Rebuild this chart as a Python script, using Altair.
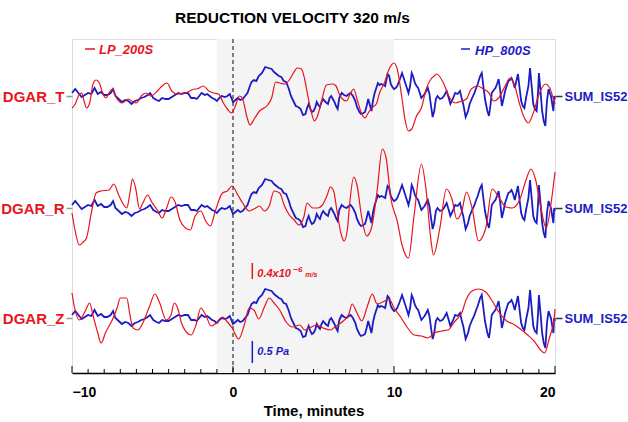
import altair as alt
import pandas as pd

RED = "#e8141e"
BLUE = "#1c1cc4"

# Row labels and their baselines (plot units, 0 = bottom of frame)
row_names = ["DGAR_T", "DGAR_R", "DGAR_Z"]
row_base = [277, 165, 55]

# HP_800S infrasound trace (same in all three rows)
blue_t = [-10.0, -9.8, -9.6, -9.4, -9.2, -9.0, -8.8, -8.6, -8.4, -8.2, -8.0, -7.8, -7.6, -7.45, -7.3,
          -7.1, -6.9, -6.7, -6.5, -6.3, -6.1, -5.9, -5.7, -5.5, -5.3, -5.15, -4.95, -4.75, -4.6, -4.4,
          -4.2, -4.0, -3.8, -3.6, -3.4, -3.2, -3.0, -2.8, -2.6, -2.4, -2.25, -2.1, -1.95, -1.75, -1.6,
          -1.45, -1.3, -1.15, -1.0, -0.85, -0.7, -0.5, -0.35, -0.2, -0.1, 0.0, 0.15, 0.3, 0.45, 0.6,
          0.75, 0.9, 1.05, 1.15, 1.3, 1.45, 1.6, 1.8, 2.0, 2.2, 2.4, 2.55, 2.7, 2.85, 3.0,
          3.15, 3.3, 3.45, 3.6, 3.75, 3.9, 4.05, 4.2, 4.35, 4.5, 4.6, 4.7, 4.8, 4.9, 5.0,
          5.1, 5.2, 5.3, 5.4, 5.5, 5.6, 5.75, 5.9, 6.0, 6.1, 6.2, 6.3, 6.4, 6.5, 6.6,
          6.75, 6.9, 7.05, 7.2, 7.3, 7.45, 7.6, 7.7, 7.85, 7.95, 8.1, 8.2, 8.3, 8.4, 8.5,
          8.6, 8.7, 8.8, 9.0, 9.1, 9.2, 9.35, 9.45, 9.6, 9.7, 9.8, 9.9, 10.0, 10.1, 10.2,
          10.35, 10.5, 10.6, 10.7, 10.8, 10.9, 11.0, 11.1, 11.2, 11.3, 11.4, 11.5, 11.6, 11.7, 11.8,
          11.9, 12.0, 12.1, 12.2, 12.3, 12.4, 12.5, 12.6, 12.7, 12.86, 13.0, 13.1, 13.27, 13.4, 13.5,
          13.65, 13.8, 13.95, 14.1, 14.2, 14.3, 14.45, 14.6, 14.7, 14.85, 15.0, 15.1, 15.2, 15.35, 15.45,
          15.55, 15.65, 15.8, 15.9, 16.0, 16.07, 16.2, 16.3, 16.4, 16.5, 16.6, 16.7, 16.8, 16.9, 17.0,
          17.1, 17.2, 17.3, 17.4, 17.5, 17.6, 17.7, 17.8, 17.9, 18.0, 18.1, 18.2, 18.35, 18.45, 18.55,
          18.65, 18.75, 18.86, 18.95, 19.0, 19.1, 19.2, 19.3, 19.4, 19.5, 19.6, 19.7, 19.75, 19.85, 19.9,
          19.95, 20.0]
blue_v = [3, 7, 3, -1, 1, 3, 2, 8, 2, 4, 1, 1, 3, 7, 0,
          -3, -6, -4, -5, -8, -5, -4, -2, -1, 1, 3, -2, -4, -5, -2,
          -3, -3, -1, 1, 3, 2, 3, 3, -2, -2, -3, 0, 3, 1, 2,
          0, -2, -3, -5, -2, 0, -1, 0, 2, -2, -6, -4, -2, -4, -3,
          0, 3, 10, 14, 16, 15, 20, 23, 29, 28, 27, 24, 22, 20, 19,
          15, 14, 8, 0, -5, -10, -11, -13, -19, -18, -12, -8, -13, -16, -15,
          -12, -6, -9, -11, -6, -3, -6, -8, -2, 0, -3, -6, -10, -13, -2,
          3, 1, 0, 2, 3, 0, -5, -11, -16, -18, -17, -16, -10, -3, -9,
          -15, -4, 3, 13, 11, 12, 11, 10, 22, 20, 12, 9, 7, 8, 10,
          16, 23, 18, 13, 8, 3, 10, 23, 19, 13, 10, 8, 3, -2, 0,
          2, 5, 8, 2, -10, -21, -15, -3, 0, -3, -2, 0, 5, -2, -8,
          -3, 3, 2, 5, -2, -8, -21, -15, -8, -2, 3, 8, 12, 20, 23,
          10, -3, -15, -20, -8, 3, 6, 8, 12, 17, 5, -10, -3, 5, 10,
          15, 16, 18, 14, 8, 15, 22, 8, -5, -10, -12, -2, 10, 28, 10,
          -8, -13, -15, 5, 23, 5, -15, -25, -30, -5, 7, 2, 0, -10, -15,
          0, -3]

# LP_200S seismic traces
redT_t = [-10.0, -9.8, -9.6, -9.4, -9.25, -9.1, -8.9, -8.7, -8.5, -8.3, -8.1, -7.9, -7.7, -7.5, -7.2,
          -6.9, -6.5, -6.3, -6.0, -5.7, -5.4, -5.1, -4.7, -4.4, -4.1, -3.8, -3.5, -3.1, -2.8, -2.4,
          -2.25, -1.85, -1.5, -1.2, -0.9, -0.6, -0.35, -0.1, 0.1, 0.4, 0.6, 0.85, 1.05, 1.35, 1.65,
          2.1, 2.4, 2.65, 2.9, 3.2, 3.5, 3.75, 4.0, 4.25, 4.45, 4.65, 4.85, 5.05, 5.25, 5.5,
          5.8, 6.2, 6.4, 6.6, 6.8, 7.05, 7.3, 7.5, 7.7, 8.0, 8.2, 8.4, 8.6, 8.9, 9.1,
          9.4, 9.7, 10.0, 10.2, 10.5, 10.7, 10.9, 11.1, 11.4, 11.7, 12.0, 12.3, 12.5, 12.65, 13.07,
          13.4, 13.8, 14.2, 14.5, 14.8, 15.2, 15.55, 15.9, 16.2, 16.5, 16.9, 17.2, 17.5, 17.8, 18.1,
          18.35, 18.65, 18.97, 19.4, 19.7, 19.9, 20.0]
redT_v = [-12, -8, 0, 3, -5, -12, -7, 12, 16, 13, 3, -2, 3, 7, -3,
          -7, -3, -5, -7, 0, 3, 0, 5, 10, 13, 5, 2, 3, 4, 7,
          7, 10, 5, 3, 2, -7, -13, -17, -12, 0, -3, -20, -29, -22, -15,
          -10, -2, 14, 13, 12, 16, 23, 28, 27, 17, 0, -15, -25, -20, -5,
          11, 12, 10, 2, -3, -5, 3, 7, -3, -18, -22, -17, -12, -8, 3,
          13, 27, 33, 27, -3, -25, -35, -33, -20, -12, 7, 17, 20, 22, 13,
          0, -7, -5, -3, 7, 10, 7, 3, -5, -2, 10, 18, 10, -8, -22,
          -27, -17, 0, 12, 7, -3, -8]

redR_t = [-10.0, -9.85, -9.55, -9.3, -9.1, -8.8, -8.5, -8.2, -7.7, -7.4, -7.1, -6.6, -6.4, -6.25, -6.05,
          -5.8, -5.6, -5.3, -5.05, -4.7, -4.4, -4.1, -3.85, -3.6, -3.3, -2.95, -2.65, -2.35, -2.0, -1.7,
          -1.4, -1.1, -0.65, -0.35, -0.05, 0.3, 0.6, 1.0, 1.3, 1.65, 1.95, 2.25, 2.55, 2.9, 3.2,
          3.5, 3.8, 4.1, 4.4, 4.6, 4.95, 5.25, 5.55, 5.85, 6.05, 6.25, 6.45, 6.7, 6.9, 7.1,
          7.25, 7.5, 7.7, 8.0, 8.3, 8.6, 8.95, 9.27, 9.5, 9.8, 10.2, 10.5, 10.9, 11.25, 11.7,
          12.0, 12.3, 12.45, 12.85, 13.25, 13.6, 13.9, 14.2, 14.5, 14.85, 15.25, 15.7, 16.1, 16.5, 16.95,
          17.35, 17.8, 18.2, 18.5, 18.8, 19.15, 19.45, 19.8, 20.0]
redR_v = [-5, -19, -37, -34, -30, -5, 15, 17, 18, 24, 13, 0, 15, 29, 20,
          -1, 5, 13, 6, -2, -10, 1, 11, 6, -12, -20, -22, -8, -3, -13,
          -18, -3, 15, 17, 22, 13, 5, -3, -1, 2, -3, 2, 17, 15, 2,
          -7, -12, -17, -9, 5, 0, 0, 3, 13, 21, 17, -2, -25, -33, -22,
          5, 31, 23, -10, -28, -20, 17, 59, 51, 10, -13, -37, -50, -7, 44,
          17, -33, -47, -20, 19, 9, -11, -4, 16, 0, -33, -20, 19, 11, 1,
          0, 8, 28, 39, 28, -2, -20, 10, 36]

redZ_t = [-10.0, -9.85, -9.55, -9.2, -8.9, -8.7, -8.4, -8.2, -7.9, -7.5, -7.2, -7.0, -6.6, -6.4, -6.2,
          -5.9, -5.6, -5.2, -4.85, -4.55, -4.15, -3.85, -3.65, -3.4, -3.2, -2.9, -2.6, -2.3, -2.0, -1.7,
          -1.35, -1.05, -0.65, -0.35, -0.05, 0.35, 0.7, 1.0, 1.3, 1.6, 1.95, 2.25, 2.55, 2.9, 3.3,
          3.7, 4.15, 4.45, 4.75, 5.2, 5.6, 6.05, 6.4, 6.85, 7.2, 7.4, 7.7, 8.0, 8.35, 8.65,
          8.95, 9.3, 9.7, 10.0, 10.45, 10.85, 11.25, 11.7, 12.1, 12.5, 12.95, 13.35, 13.8, 14.2, 14.5,
          14.85, 15.25, 15.7, 16.1, 16.55, 17.0, 17.4, 17.85, 18.3, 18.7, 19.1, 19.35, 19.65, 19.95, 20.0]
redZ_v = [25, 11, -2, 6, 15, 3, -15, -25, -14, -2, 10, 20, 20, 3, -10,
          -12, -5, 11, 24, 15, -2, 3, 15, 8, -5, -14, -17, -7, 10, 3,
          -8, -5, 1, -4, -10, -21, -7, 10, 8, -1, 11, 20, 15, 8, -4,
          -9, -7, -12, -10, -7, -10, -12, -8, -3, 4, 14, 5, -3, 12, 24,
          14, 16, 19, 10, 0, -10, -17, -18, -20, -15, -13, -12, -3, 5, 19,
          27, 29, 26, 17, 5, -3, -6, -11, -17, -23, -32, -35, -20, 0, 9]

# Shaded window and reference time (minutes)
window = [-1, 10]
t_ref = [0]
minutes = list(range(-10, 21))
x_labels = [-10, 0, 10, 20]

# Scale bars (placed in the Z row, plot units relative to its baseline)
bar_t = [1.2]
red_bar = [39, 55]
blue_bar = [-45, -23]

records = []
for name, base, tt, vv in [("DGAR_T", row_base[0], redT_t, redT_v),
                           ("DGAR_R", row_base[1], redR_t, redR_v),
                           ("DGAR_Z", row_base[2], redZ_t, redZ_v)]:
    for t, v in zip(tt, vv):
        records.append({"t": t, "y": base + v, "row": name, "series": "LP_200S"})
red_df = pd.DataFrame(records)

brecs = []
for name, base in zip(row_names, row_base):
    for t, v in zip(blue_t, blue_v):
        brecs.append({"t": t, "y": base + v, "row": name, "series": "HP_800S"})
blue_df = pd.DataFrame(brecs)

W, H = 483, 334
xscale = alt.Scale(domain=[-10, 20], nice=False, zero=False)
yscale = alt.Scale(domain=[0, H], nice=False, zero=False)

label_expr_left = ("datum.value == %d ? 'DGAR_T' : datum.value == %d ? 'DGAR_R' : 'DGAR_Z'"
                   % (row_base[0], row_base[1]))

shade = alt.Chart(pd.DataFrame({"t0": [window[0]], "t1": [window[1]]})).mark_rect(
    color="#f4f4f4").encode(
    x=alt.X("t0:Q", scale=xscale,
            axis=alt.Axis(values=x_labels, title="Time, minutes", tickSize=0, labelPadding=12,
                          labelFontSize=14, labelFontWeight="bold", labelColor="black",
                          titleFontSize=15, titleFontWeight="bold", titleColor="black",
                          titlePadding=4, domainColor="black", domainWidth=1.5, grid=False,
                          labelFont="Liberation Sans", titleFont="Liberation Sans")),
    x2="t1:Q")

zero_line = alt.Chart(pd.DataFrame({"t": t_ref})).mark_rule(
    color="#555555", strokeDash=[4, 3], strokeWidth=1.5).encode(x=alt.X("t:Q", scale=xscale))

ticks_df = pd.DataFrame({"t": minutes, "y0": [0] * len(minutes),
                         "len": [7 if m % 10 == 0 else 4 for m in minutes]})
ticks = alt.Chart(ticks_df).mark_rule(color="black", strokeWidth=1).encode(
    x=alt.X("t:Q", scale=xscale),
    y=alt.Y("y0:Q", scale=yscale, axis=None),
    y2="len:Q")

blue_lines = alt.Chart(blue_df).mark_line(color=BLUE, strokeWidth=1.8, interpolate="linear").encode(
    x=alt.X("t:Q", scale=xscale),
    y=alt.Y("y:Q", scale=yscale,
            axis=alt.Axis(orient="right", values=row_base, labelExpr="'SUM_IS52'", title=None,
                          tickSize=7, tickColor="#333333", tickWidth=1.5, labelPadding=2,
                          labelFontSize=13, labelFontWeight="bold", labelColor=BLUE,
                          labelFont="Liberation Sans", domain=False, grid=False)),
    detail="row:N")

red_lines = alt.Chart(red_df).mark_line(color=RED, strokeWidth=1.2, interpolate="monotone").encode(
    x=alt.X("t:Q", scale=xscale),
    y=alt.Y("y:Q", scale=yscale,
            axis=alt.Axis(orient="left", values=row_base, labelExpr=label_expr_left, title=None,
                          tickSize=6, tickColor="#999999", tickWidth=1.5, labelPadding=2,
                          labelFontSize=15, labelFontWeight="bold", labelColor=RED,
                          labelFont="Liberation Sans", domain=False, grid=False)),
    detail="row:N")

zbase = row_base[2]
bars_df = pd.DataFrame({"t": bar_t * 2,
                        "y0": [zbase + red_bar[0], zbase + blue_bar[0]],
                        "y1": [zbase + red_bar[1], zbase + blue_bar[1]],
                        "c": ["red", "blue"]})
bars = alt.Chart(bars_df).mark_rule(strokeWidth=1.5).encode(
    x=alt.X("t:Q", scale=xscale),
    y=alt.Y("y0:Q", scale=yscale, axis=None),
    y2="y1:Q",
    color=alt.Color("c:N", scale=alt.Scale(domain=["red", "blue"], range=[RED, BLUE]), legend=None))

ymid_red = zbase + (red_bar[0] + red_bar[1]) / 2 - 3
ymid_blue = zbase + (blue_bar[0] + blue_bar[1]) / 2
lab_df = pd.DataFrame({"t": bar_t, "yr": [ymid_red], "yb": [ymid_blue]})
txt_common = dict(fontStyle="italic", fontWeight="bold", font="Liberation Sans", align="left",
                  baseline="middle")
red_lab1 = alt.Chart(lab_df).mark_text(text="0.4x10", fontSize=11, color=RED, dx=5, **txt_common).encode(
    x=alt.X("t:Q", scale=xscale), y=alt.Y("yr:Q", scale=yscale, axis=None))
red_lab2 = alt.Chart(lab_df).mark_text(text="\u22126", fontSize=8, color=RED, dx=41, dy=-4, **txt_common).encode(
    x=alt.X("t:Q", scale=xscale), y=alt.Y("yr:Q", scale=yscale, axis=None))
red_lab3 = alt.Chart(lab_df).mark_text(text="m/s", fontSize=7, color=RED, dx=53, dy=1, **txt_common).encode(
    x=alt.X("t:Q", scale=xscale), y=alt.Y("yr:Q", scale=yscale, axis=None))
blue_lab = alt.Chart(lab_df).mark_text(text="0.5 Pa", fontSize=11, color=BLUE, dx=5, **txt_common).encode(
    x=alt.X("t:Q", scale=xscale), y=alt.Y("yb:Q", scale=yscale, axis=None))

# Legend entries inside the frame
leg_df = pd.DataFrame({"name": ["LP_200S", "HP_800S"], "c": ["red", "blue"]})
lp_line = alt.Chart(leg_df.iloc[[0]]).mark_rule(color=RED, strokeWidth=1.5).encode(
    x=alt.value(13), x2=alt.value(23), y=alt.value(10))
lp_text = alt.Chart(leg_df.iloc[[0]]).mark_text(color=RED, fontSize=13, fontStyle="italic",
                                                fontWeight="bold", font="Liberation Sans",
                                                align="left", baseline="middle").encode(
    text="name:N", x=alt.value(27), y=alt.value(11))
hp_line = alt.Chart(leg_df.iloc[[1]]).mark_rule(color=BLUE, strokeWidth=1.5).encode(
    x=alt.value(389), x2=alt.value(398), y=alt.value(10))
hp_text = alt.Chart(leg_df.iloc[[1]]).mark_text(color=BLUE, fontSize=13, fontStyle="italic",
                                                fontWeight="bold", font="Liberation Sans",
                                                align="left", baseline="middle").encode(
    text="name:N", x=alt.value(403), y=alt.value(12))

chart = alt.layer(
    shade, zero_line, ticks, blue_lines, red_lines, bars,
    red_lab1, red_lab2, red_lab3, blue_lab, lp_line, lp_text, hp_line, hp_text
).resolve_axis(y="independent").properties(
    width=W, height=H,
    autosize=alt.AutoSizeParams(type="none"),
    padding={"left": 72, "top": 39, "right": 73, "bottom": 49},
    title=alt.TitleParams("REDUCTION VELOCITY 320 m/s", anchor="middle", dx=-21, offset=12,
                          fontSize=15.5, fontWeight="bold", font="Liberation Sans", color="black"),
).configure_view(stroke="#222222", strokeWidth=1.5).configure(background="white")

chart.save("out.html", embed_options={"renderer": "svg", "actions": False})
